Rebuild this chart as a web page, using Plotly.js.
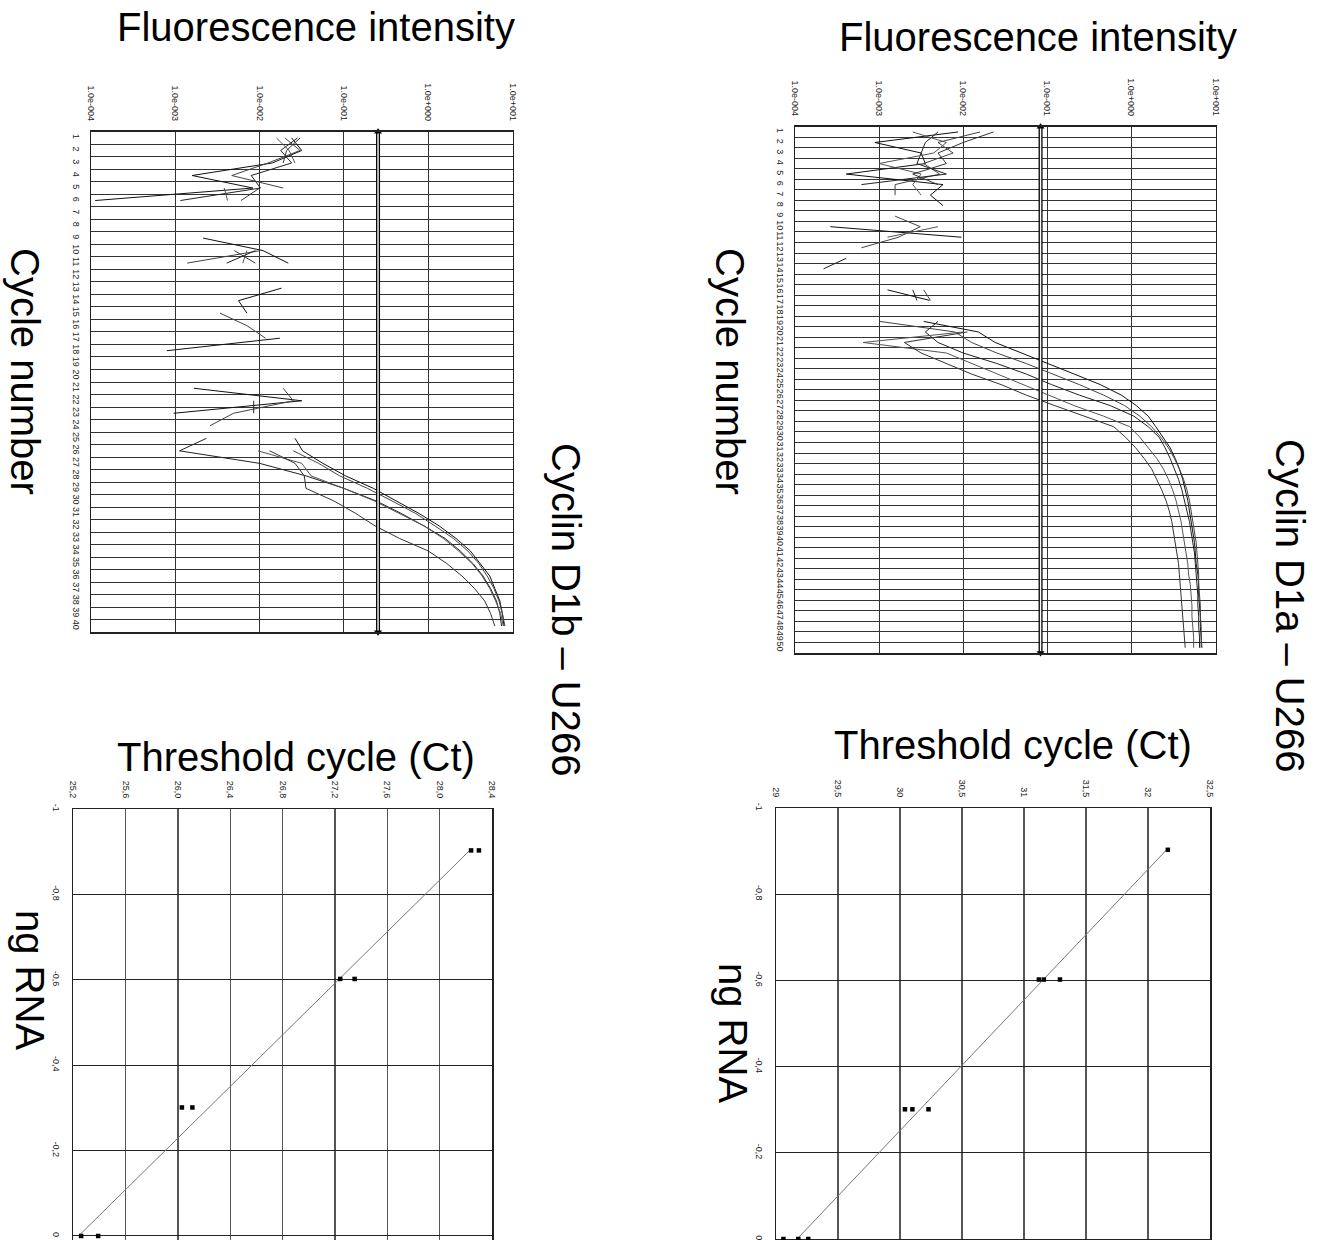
<!DOCTYPE html>
<html>
<head>
<meta charset="utf-8">
<script src="https://cdn.plot.ly/plotly-3.0.1.min.js"></script>
<style>
html, body { margin: 0; padding: 0; overflow: hidden; background: #fff; }
#chart { width: 1323px; height: 1280px; }
</style>
</head>
<body>
<div id="chart"></div>
<script>
// ---------------- DATA ----------------
// Intensity values are given as log10(fluorescence intensity)
const intensityTickVals = [-4, -3, -2, -1, 0, 1];
const intensityTickText = ["1.0e-004", "1.0e-003", "1.0e-002", "1.0e-001", "1.0e+000", "1.0e+001"];

// Cyclin D1b – U266 amplification (cycles 1..40)
const cyclesD1b = [1,2,3,4,5,6,7,8,9,10,11,12,13,14,15,16,17,18,19,20,21,22,23,24,25,26,27,28,29,30,31,32,33,34,35,36,37,38,39,40];
const d1bCurveA = [-1.62,-1.50,-1.85,-2.80,-2.08,-3.95,null,null,-2.67,-1.96,-1.66,null,-1.74,-2.25,-2.15,null,-1.76,-3.10,null,null,-2.78,-1.50,-3.02,null,-1.58,-1.49,-1.25,-0.98,-0.65,-0.38,-0.11,0.13,0.33,0.50,0.62,0.73,0.79,0.85,0.88,0.90];
const d1bCurveB = [-1.70,-1.52,-1.90,-2.33,-1.72,null,null,null,null,-1.99,-2.86,null,null,null,-2.47,-2.15,-1.93,null,null,null,-1.72,-1.60,-2.31,-2.59,null,-1.60,-1.30,-1.05,-0.72,-0.43,-0.15,0.08,0.30,0.47,0.60,0.70,0.78,0.84,0.88,0.91];
const d1bCurveC = [-1.55,-1.75,-1.62,-2.10,-1.99,-2.94,null,null,null,-2.05,-2.39,null,null,null,null,null,null,null,null,null,null,-2.07,-2.07,null,-2.63,-2.95,-2.00,-1.45,-1.00,-0.62,-0.32,-0.05,0.20,0.38,0.53,0.65,0.74,0.81,0.85,0.87];
const d1bCurveD = [-1.80,-1.65,-1.58,null,-2.42,-2.38,null,null,null,-2.15,-2.20,null,null,null,null,null,null,null,null,null,null,null,null,null,null,-2.02,-1.50,-1.39,-1.00,-0.64,-0.34,-0.05,0.18,0.36,0.52,0.64,0.73,0.80,0.86,0.89];
const d1bCurveE = [-1.52,-1.68,-1.72,null,-2.00,-2.22,null,null,null,-2.30,-2.05,null,null,null,null,null,null,null,null,null,null,null,null,null,null,-1.88,-1.58,-1.47,-1.45,-1.12,-0.86,-0.63,-0.34,0.00,0.22,0.40,0.55,0.67,0.74,0.79];
const d1bThreshold = [-0.595];

// Cyclin D1a – U266 amplification (cycles 1..50)
const cyclesD1a = [1,2,3,4,5,6,7,8,9,10,11,12,13,14,15,16,17,18,19,20,21,22,23,24,25,26,27,28,29,30,31,32,33,34,35,36,37,38,39,40,41,42,43,44,45,46,47,48,49,50];
const d1aCurve1 = [-2.06,-3.05,-2.50,-2.45,-3.39,-2.24,-2.39,-2.24,null,-3.58,-2.02,null,null,null,null,-2.90,-2.40,null,-2.47,-1.82,-1.62,-1.30,-0.99,-0.68,-0.37,-0.12,0.06,0.20,0.29,0.38,0.46,0.52,0.57,0.61,0.64,0.67,0.69,0.71,0.73,0.75,0.76,0.77,0.79,0.80,0.80,0.81,0.82,0.82,0.83,0.83];
const d1aCurve2 = [-1.80,-2.30,-2.12,-2.47,-2.28,-2.81,-2.81,null,-2.81,-2.51,-2.77,-3.21,null,null,null,-2.47,-2.39,null,-2.99,-2.10,-1.90,-1.60,-1.25,-0.93,-0.62,-0.33,-0.08,0.10,0.24,0.35,0.44,0.51,0.57,0.62,0.66,0.69,0.71,0.73,0.75,0.77,0.78,0.79,0.80,0.80,0.81,0.82,0.82,0.83,0.83,0.84];
const d1aCurve3 = [-2.30,-2.45,-2.50,-2.55,-2.20,-3.21,null,null,null,null,null,null,-3.39,-3.66,null,-2.60,-2.55,null,-2.30,-2.45,-2.30,-2.00,-1.60,-1.25,-0.95,-0.62,-0.25,0.03,0.20,0.33,0.40,0.46,0.51,0.56,0.60,0.63,0.66,0.69,0.71,0.73,0.75,0.76,0.77,0.78,0.79,0.79,0.80,0.80,0.81,0.81];
const d1aCurve4 = [-2.60,-2.20,-2.35,-3.00,-2.50,-2.60,-2.50,null,null,-2.30,-2.90,null,null,null,null,null,null,null,null,-2.00,-3.19,-2.20,-1.90,-1.60,-1.30,-0.98,-0.68,-0.33,-0.02,0.10,0.20,0.30,0.38,0.44,0.49,0.53,0.56,0.59,0.61,0.63,0.65,0.67,0.68,0.70,0.71,0.72,0.72,0.73,0.74,0.74];
const d1aCurve5 = [-1.64,-2.00,-2.30,-2.20,-2.60,-2.30,null,null,null,null,null,null,null,null,null,null,null,null,null,-1.95,-2.70,-2.50,-2.20,-1.90,-1.55,-1.25,-0.91,-0.56,-0.21,-0.07,0.05,0.15,0.24,0.30,0.36,0.41,0.45,0.48,0.50,0.52,0.54,0.56,0.57,0.58,0.59,0.60,0.61,0.62,0.63,0.64];
const d1aThreshold = [-1.08];

// Standard curves (log ng RNA vs threshold cycle)
const ngD1b = [-0.903,-0.903,-0.602,-0.602,-0.301,-0.301,0,0];
const ctD1b = [28.24,28.30,27.24,27.35,26.03,26.11,25.26,25.39];
const fitNgD1b = [-0.903, 0];
const fitCtD1b = [28.23, 25.24];
const ctTicksD1b = [25.2,25.6,26.0,26.4,26.8,27.2,27.6,28.0,28.4];
const ctTickTextD1b = ["25,2","25,6","26,0","26,4","26,8","27,2","27,6","28,0","28,4"];

const ngD1a = [-0.903,-0.602,-0.602,-0.602,-0.301,-0.301,-0.301,0,0,0];
const ctD1a = [32.16,31.12,31.16,31.29,30.04,30.10,30.23,29.06,29.18,29.26];
const fitNgD1a = [-0.903, 0];
const fitCtD1a = [32.15, 29.17];
const ctTicksD1a = [29,29.5,30,30.5,31,31.5,32,32.5];
const ctTickTextD1a = ["29","29,5","30","30,5","31","31,5","32","32,5"];

const ngTicks = [-1,-0.8,-0.6,-0.4,-0.2,0];
const ngTickText = ["-1","-0,8","-0,6","-0,4","-0,2","0"];

// ---------------- LAYOUT HELPERS ----------------
const W = 1323, H = 1280;
const px = v => v / W;
const py = v => 1 - v / H;
const tickFont = {family: "Liberation Sans Narrow, Arial Narrow, Liberation Sans, Arial, sans-serif", size: 9, color: "#222"};
const titleFont = {family: "Liberation Sans, Arial, Helvetica, sans-serif", size: 40, color: "#000"};
const curveColors = ["#111", "#444", "#222", "#555", "#333"];

function curveTraces(curves, cycles, xa, ya) {
  return curves.map((c, i) => ({
    type: "scatter", mode: "lines", x: c, y: cycles, xaxis: xa, yaxis: ya,
    line: {color: curveColors[i % curveColors.length], width: 1}, connectgaps: false,
    hoverinfo: "skip", showlegend: false
  }));
}
function thresholdTraces(thr, cycles, xa, ya) {
  const y0 = cycles[0] - 0.5, y1 = cycles[cycles.length - 1] + 0.5;
  return [
    {type: "scatter", mode: "lines", x: [thr[0], thr[0]], y: [y0, y1], xaxis: xa, yaxis: ya,
     line: {color: "#000", width: 4}, showlegend: false, hoverinfo: "skip"},
    {type: "scatter", mode: "lines", x: [thr[0], thr[0]], y: [y0, y1], xaxis: xa, yaxis: ya,
     line: {color: "#fff", width: 1.4}, showlegend: false, hoverinfo: "skip"},
    {type: "scatter", mode: "markers", x: [thr[0], thr[0]], y: [y0, y1], xaxis: xa, yaxis: ya,
     marker: {symbol: ["triangle-up", "triangle-down"], size: 7, color: "#000"},
     cliponaxis: false, showlegend: false, hoverinfo: "skip"}
  ];
}

const traces = [
  ...curveTraces([d1bCurveA, d1bCurveB, d1bCurveC, d1bCurveD, d1bCurveE], cyclesD1b, "x", "y"),
  ...thresholdTraces(d1bThreshold, cyclesD1b, "x", "y"),
  ...curveTraces([d1aCurve1, d1aCurve2, d1aCurve3, d1aCurve4, d1aCurve5], cyclesD1a, "x2", "y2"),
  ...thresholdTraces(d1aThreshold, cyclesD1a, "x2", "y2"),
  {type: "scatter", mode: "lines", x: fitCtD1b, y: fitNgD1b, xaxis: "x3", yaxis: "y3",
   line: {color: "#777", width: 1}, showlegend: false, hoverinfo: "skip"},
  {type: "scatter", mode: "markers", x: ctD1b, y: ngD1b, xaxis: "x3", yaxis: "y3",
   marker: {symbol: "square", size: 4.5, color: "#000"}, cliponaxis: false, showlegend: false},
  {type: "scatter", mode: "lines", x: fitCtD1a, y: fitNgD1a, xaxis: "x4", yaxis: "y4",
   line: {color: "#777", width: 1}, showlegend: false, hoverinfo: "skip"},
  {type: "scatter", mode: "markers", x: ctD1a, y: ngD1a, xaxis: "x4", yaxis: "y4",
   marker: {symbol: "square", size: 4.5, color: "#000"}, cliponaxis: false, showlegend: false}
];

function intensityAxis(domain, anchor) {
  return {domain, anchor, side: "top", range: [-4, 1], tickmode: "array",
    tickvals: intensityTickVals, ticktext: intensityTickText, tickangle: 90,
    tickfont: tickFont, ticks: "", ticklabelstandoff: 6,
    showgrid: true, gridcolor: "#333", gridwidth: 1, zeroline: false,
    showline: true, mirror: true, linecolor: "#222", linewidth: 1.5, fixedrange: true};
}
function cycleAxis(domain, anchor, cycles) {
  return {domain, anchor, range: [cycles[cycles.length - 1] + 0.5, cycles[0] - 0.5],
    tickmode: "array", tickvals: cycles, ticktext: cycles.map(String), tickangle: 90,
    tickfont: tickFont, ticks: "", ticklabelstandoff: 6, showgrid: false,
    minor: {tickmode: "linear", tick0: 0.5, dtick: 1, showgrid: true, gridcolor: "#333", gridwidth: 1, ticks: ""},
    zeroline: false, showline: true, mirror: true, linecolor: "#222", linewidth: 1.5, fixedrange: true};
}
function ctAxis(domain, anchor, range, vals, text) {
  return {domain, anchor, side: "top", range, tickmode: "array", tickvals: vals, ticktext: text,
    tickangle: 90, tickfont: tickFont, ticks: "", ticklabelstandoff: 6,
    showgrid: true, gridcolor: "#555", gridwidth: 1.3, zeroline: false,
    showline: true, mirror: true, linecolor: "#222", linewidth: 1.5, fixedrange: true};
}
function ngAxis(domain, anchor, range) {
  return {domain, anchor, range, tickmode: "array", tickvals: ngTicks, ticktext: ngTickText,
    tickangle: 90, tickfont: tickFont, ticks: "", ticklabelstandoff: 8,
    showgrid: true, gridcolor: "#222", gridwidth: 1, zeroline: false,
    showline: true, mirror: true, linecolor: "#222", linewidth: 1.5, fixedrange: true};
}

function ann(text, x, y, angle) {
  return {text, x: px(x), y: py(y), xref: "paper", yref: "paper", xanchor: "center", yanchor: "middle",
    showarrow: false, textangle: angle || 0, font: titleFont};
}

const layout = {
  width: W, height: H, margin: {l: 0, r: 0, t: 0, b: 0}, paper_bgcolor: "#fff", plot_bgcolor: "#fff",
  showlegend: false, font: {family: "Liberation Sans, Arial, sans-serif"},
  xaxis: intensityAxis([px(91), px(512.5)], "y"),
  yaxis: cycleAxis([py(632.3), py(131.7)], "x", cyclesD1b),
  xaxis2: intensityAxis([px(795), px(1215.5)], "y2"),
  yaxis2: cycleAxis([py(653), py(126.7)], "x2", cyclesD1a),
  xaxis3: ctAxis([px(73.3), px(492)], "y3", [25.2, 28.4], ctTicksD1b, ctTickTextD1b),
  yaxis3: ngAxis([py(1250), py(809)], "x3", [0.0328, -1]),
  xaxis4: ctAxis([px(776), px(1210)], "y4", [29, 32.5], ctTicksD1a, ctTickTextD1a),
  yaxis4: ngAxis([py(1250), py(808)], "x4", [0.0255, -1]),
  annotations: [
    ann("Fluorescence intensity", 316, 27),
    ann("Fluorescence intensity", 1038, 37),
    ann("Cycle number", 25, 371, 90),
    ann("Cycle number", 730, 371, 90),
    ann("Cyclin D1b – U266", 566, 610, 90),
    ann("Cyclin D1a – U266", 1290, 606, 90),
    ann("Threshold cycle (Ct)", 296, 757),
    ann("Threshold cycle (Ct)", 1013, 745),
    ann("ng RNA", 30, 980, 90),
    ann("ng RNA", 733, 1033, 90)
  ]
};

Plotly.newPlot("chart", traces, layout, {staticPlot: true, displayModeBar: false});
</script>
</body>
</html>
